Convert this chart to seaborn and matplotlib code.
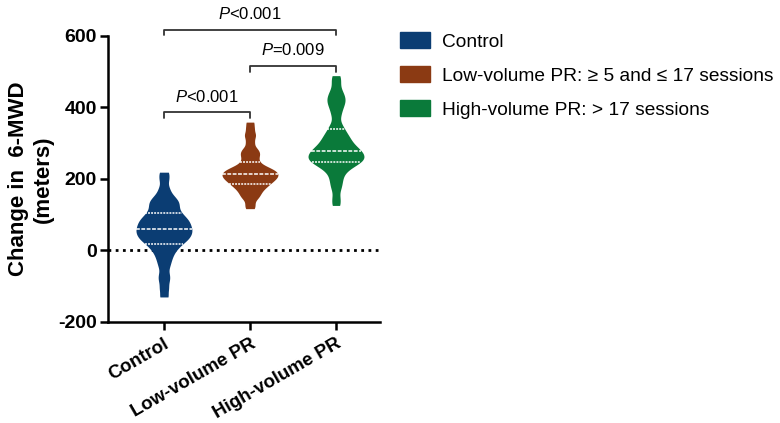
import pandas as pd
import seaborn as sns
import matplotlib.pyplot as plt
from matplotlib.patches import Patch

# change in 6-MWD (meters)
control = [-130, -106, -84, -67, -45, -29, -16, -5, 4, 11, 18, 23, 28, 32, 36, 40,
           44, 48, 51, 55, 59, 62, 66, 70, 74, 78, 82, 86, 90, 95, 100, 106,
           112, 120, 127, 133, 140, 147, 158, 175, 199, 219]
low_volume = [117, 130, 144, 151, 158, 164, 169, 175, 178, 182, 186, 189, 192, 195,
              198, 200, 203, 205, 208, 210, 212, 215, 217, 219, 222, 224, 227, 230,
              233, 237, 243, 250, 258, 266, 272, 279, 287, 302, 317, 328, 343, 359]
high_volume = [126, 147, 172, 188, 202, 215, 225, 232, 237, 242, 246, 249, 252, 255,
               258, 261, 264, 268, 271, 274, 277, 281, 284, 289, 293, 298, 304, 310,
               316, 323, 331, 341, 354, 377, 394, 407, 417, 426, 436, 449, 470, 489]

groups = ["Control", "Low-volume PR", "High-volume PR"]
legend_labels = ["Control", "Low-volume PR: \u2265 5 and \u2264 17 sessions",
                 "High-volume PR: > 17 sessions"]
colors = ["#0B3D73", "#8B3A13", "#0A7A3A"]

df = pd.DataFrame({
    "group": ["Control"] * len(control) + ["Low-volume PR"] * len(low_volume)
             + ["High-volume PR"] * len(high_volume),
    "value": control + low_volume + high_volume,
})

sns.set_style("ticks")
plt.rcParams["font.family"] = ["Liberation Sans", "DejaVu Sans"]
plt.rcParams["mathtext.fontset"] = "custom"
plt.rcParams["mathtext.rm"] = "Liberation Sans"
plt.rcParams["mathtext.it"] = "Liberation Sans:italic"
plt.rcParams["text.color"] = "black"

fig = plt.figure(figsize=(7.8, 4.23), dpi=100)
ax = fig.add_axes([0.1385, 0.2388, 0.3485, 0.6762])

sns.violinplot(data=df, x="group", y="value", hue="group", order=groups,
               palette=colors, saturation=1, inner="quart", cut=0,
               bw_adjust=0.32, density_norm="width", width=0.65,
               linewidth=0, inner_kws=dict(color="white", linewidth=1.1),
               legend=False, ax=ax)
for coll in ax.collections:
    coll.set_edgecolor(coll.get_facecolor())

ax.axhline(0, color="black", linestyle=(0, (1, 1.6)), linewidth=2, zorder=0)

ax.set_xlim(-0.65, 2.51)
ax.set_ylim(-200, 600)
ax.set_yticks([-200, 0, 200, 400, 600])
ax.set_xlabel("")
ax.set_ylabel("Change in  6-MWD\n(meters)", fontsize=16, fontweight="bold", color="black")
ax.yaxis.set_label_coords(-0.20, 0.5)
sns.despine(ax=ax)
for s in ["left", "bottom"]:
    ax.spines[s].set_linewidth(1.8)
    ax.spines[s].set_color("black")
ax.tick_params(width=1.8, length=6, colors="black")
ax.tick_params(axis="y", pad=2)
ax.set_yticklabels([str(t) for t in [-200, 0, 200, 400, 600]], fontsize=14, fontweight="bold")
ax.set_xticks(range(3))
ax.set_xticklabels(groups, rotation=30, ha="right", rotation_mode="anchor",
                   fontsize=13.5, fontweight="bold")

# significance brackets
def bracket(x1, x2, y, label):
    ax.plot([x1, x1, x2, x2], [y - 15, y, y, y - 15], color="#333333", lw=1.3, clip_on=False)
    ax.text((x1 + x2) / 2, y + 22, label, ha="center", va="bottom", fontsize=12, clip_on=False)

bracket(0, 1, 386, "$\\it{P}$<0.001")
bracket(1, 2, 515, "$\\it{P}$=0.009")
bracket(0, 2, 618, "$\\it{P}$<0.001")

handles = [Patch(facecolor=c, edgecolor=c) for c in colors]
fig.legend(handles, legend_labels, loc="upper left", bbox_to_anchor=(0.513, 0.924),
           frameon=False, fontsize=13.8, handlelength=1.55, handleheight=0.9,
           labelspacing=0.8, handletextpad=0.63, borderpad=0, borderaxespad=0)

fig.savefig("out.png", dpi=100)
